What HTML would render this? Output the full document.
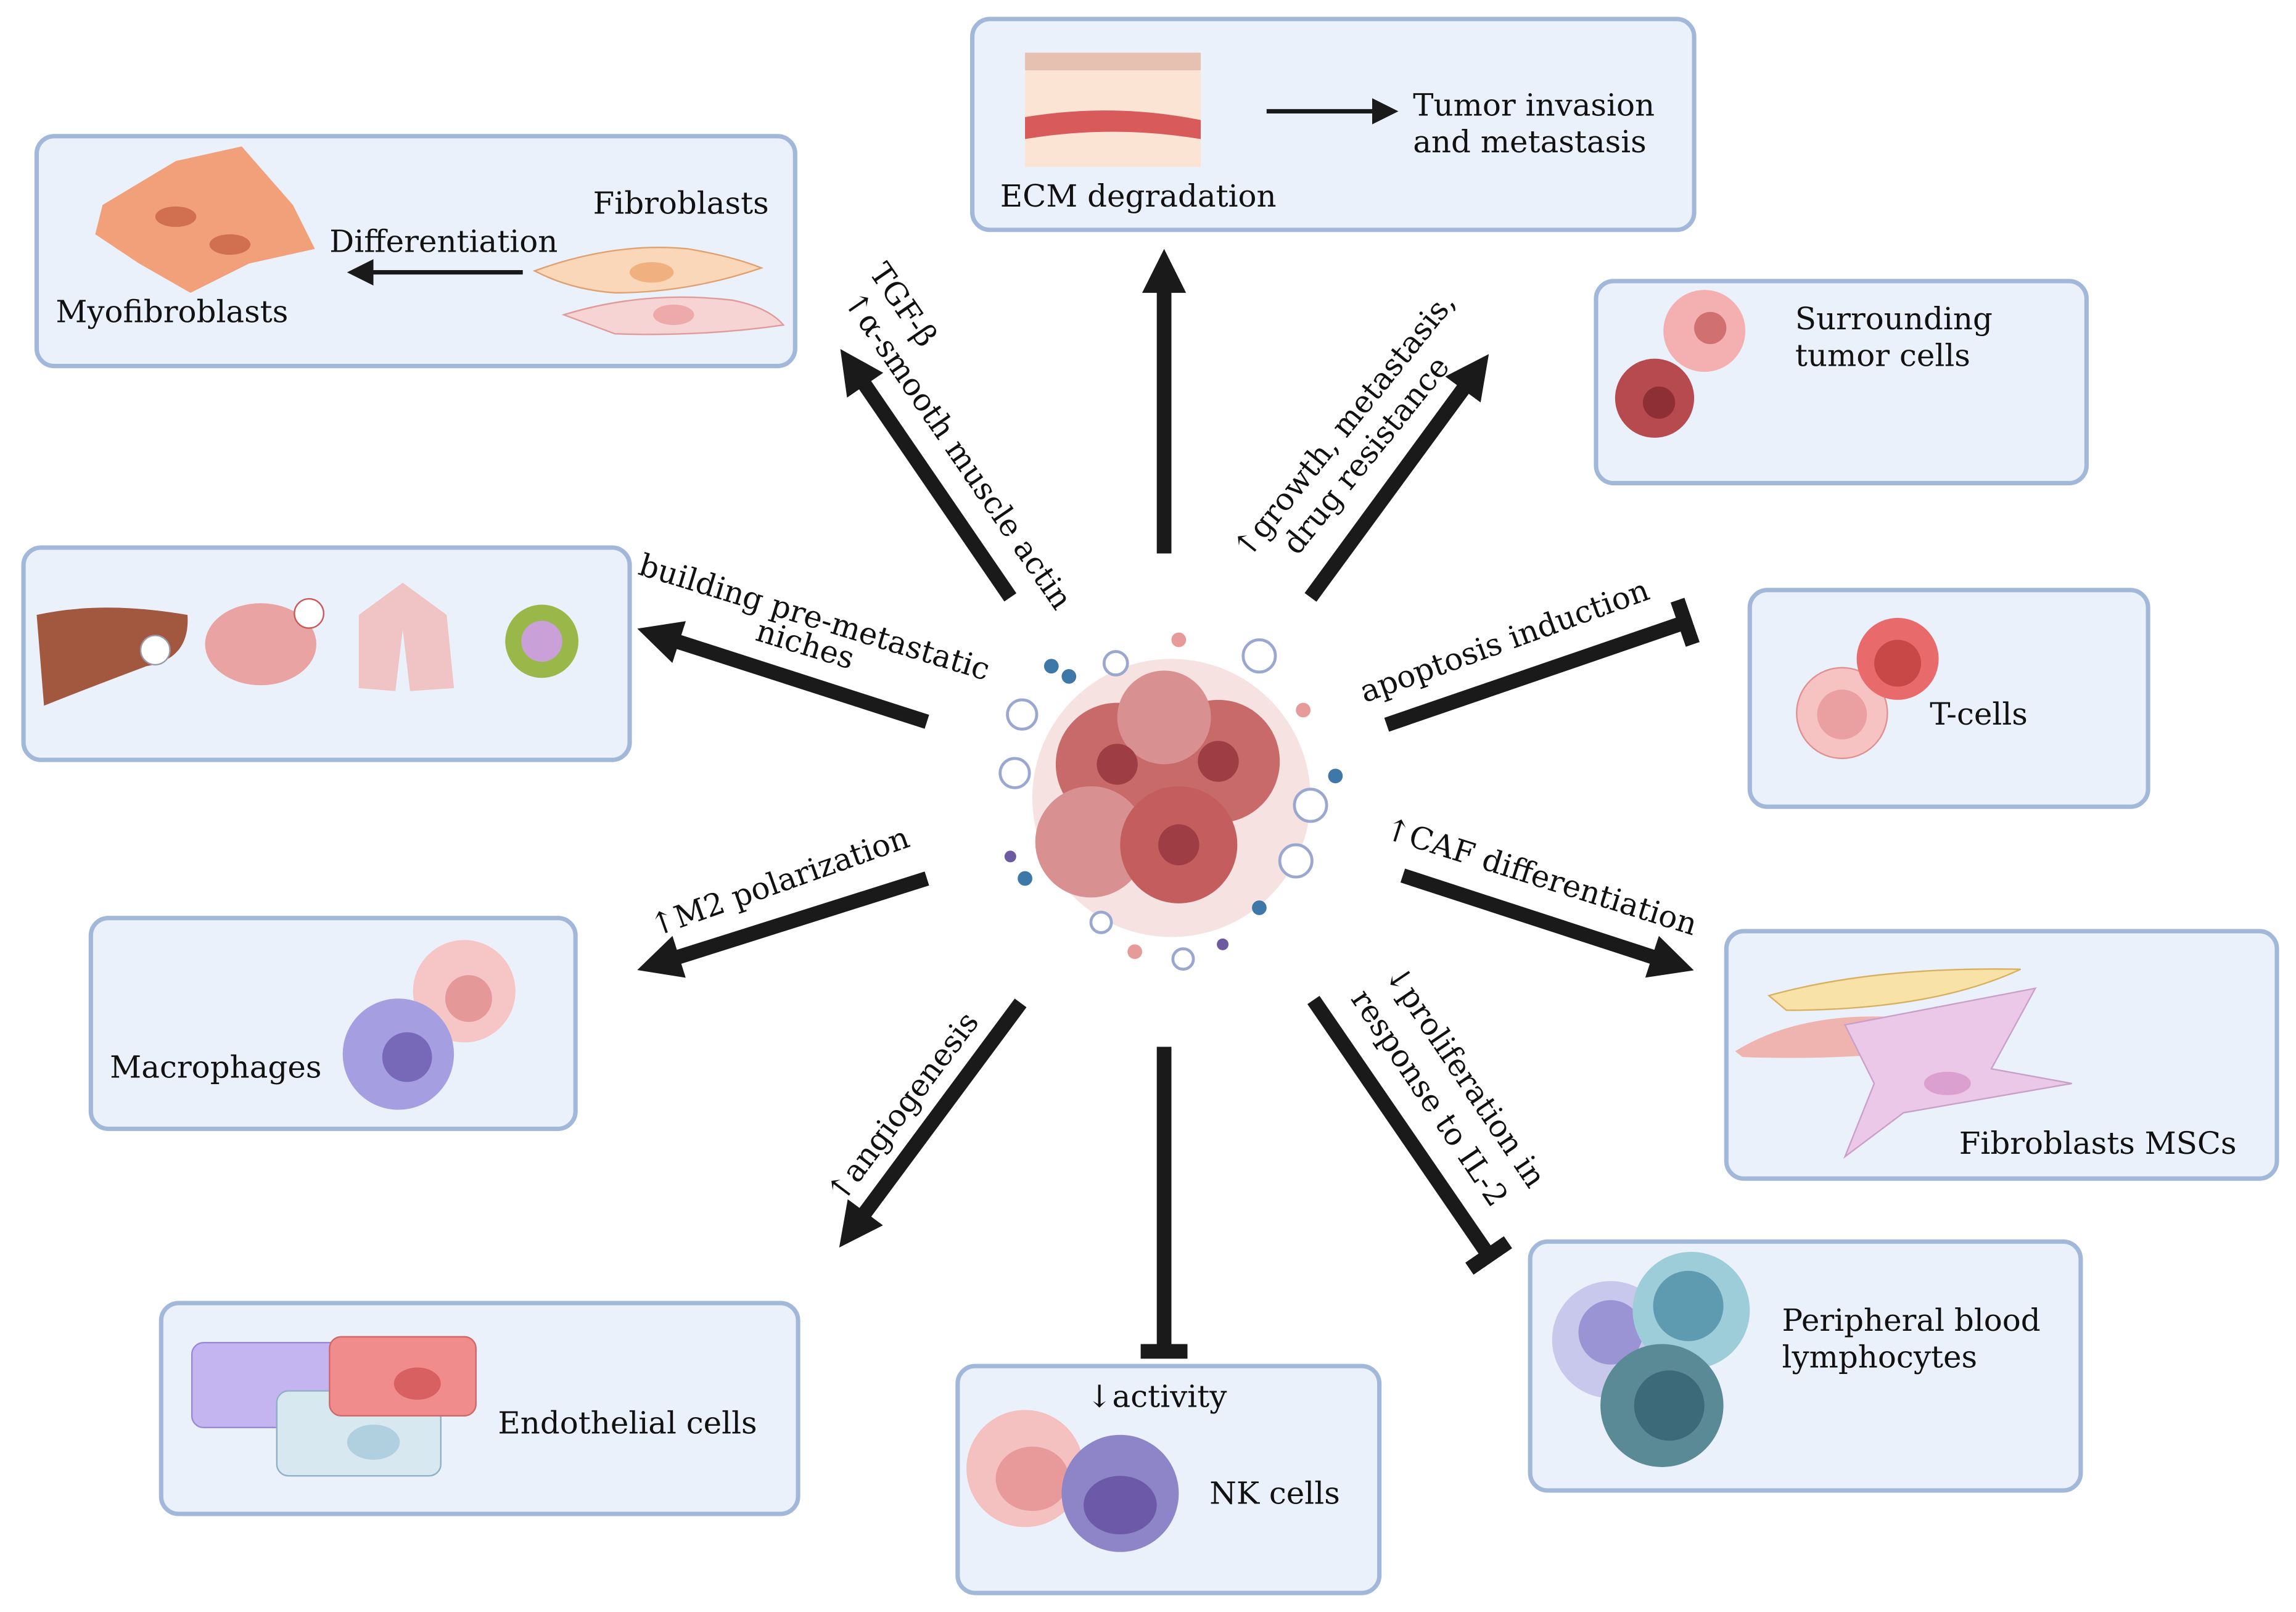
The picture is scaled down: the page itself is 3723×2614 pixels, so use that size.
<!DOCTYPE html>
<html><head><meta charset="utf-8"><style>
html,body{margin:0;padding:0;background:#fff}
svg{display:block}
text{font-family:"DejaVu Serif","Liberation Serif",serif;font-size:21px;fill:#111}
</style></head><body>
<svg width="3723" height="2614" viewBox="0 0 1568 1101" xmlns="http://www.w3.org/2000/svg">
<defs>
<marker id="ah" markerWidth="3" markerHeight="3" refX="0.5" refY="1.5" orient="auto" markerUnits="strokeWidth">
<path d="M0,0 L3,1.5 L0,3 z" fill="#1a1a1a"/></marker>
<marker id="ah2" markerWidth="6" markerHeight="6" refX="1" refY="3" orient="auto" markerUnits="strokeWidth">
<path d="M0,0 L6,3 L0,6 z" fill="#1a1a1a"/></marker>
<marker id="tb" markerWidth="1" markerHeight="3.2" refX="0.2" refY="1.6" orient="auto" markerUnits="strokeWidth">
<rect x="0" y="0" width="1" height="3.2" fill="#1a1a1a"/></marker>
</defs>
<g fill="#ebf1fa" stroke="#a2b8da" stroke-width="3">
<rect x="25" y="93" width="518" height="157" rx="12"/>
<rect x="664" y="13" width="493" height="144" rx="12"/>
<rect x="1090" y="192" width="335" height="138" rx="12"/>
<rect x="16" y="374" width="414" height="145" rx="12"/>
<rect x="1195" y="403" width="272" height="148" rx="12"/>
<rect x="62" y="627" width="331" height="144" rx="12"/>
<rect x="1179" y="636" width="376" height="169" rx="12"/>
<rect x="110" y="890" width="435" height="144" rx="12"/>
<rect x="654" y="933" width="288" height="155" rx="12"/>
<rect x="1045" y="848" width="376" height="170" rx="12"/>
</g>
<g stroke="#1a1a1a" stroke-width="10" fill="none">
<line x1="795" y1="378" x2="795" y2="195" marker-end="url(#ah)"/>
<line x1="690" y1="408" x2="588" y2="259" marker-end="url(#ah)"/>
<line x1="895" y1="408" x2="1002" y2="262" marker-end="url(#ah)"/>
<line x1="633" y1="493" x2="459" y2="437" marker-end="url(#ah)"/>
<line x1="947" y1="495" x2="1148" y2="426" marker-end="url(#tb)"/>
<line x1="633" y1="600" x2="459" y2="655" marker-end="url(#ah)"/>
<line x1="958" y1="598" x2="1133" y2="655" marker-end="url(#ah)"/>
<line x1="697" y1="685" x2="588" y2="832" marker-end="url(#ah)"/>
<line x1="795" y1="715" x2="795" y2="920" marker-end="url(#tb)"/>
<line x1="897" y1="683" x2="1015" y2="855" marker-end="url(#tb)"/>
<line x1="865" y1="76" x2="940" y2="76" stroke-width="3" marker-end="url(#ah2)"/>
<line x1="357" y1="186" x2="252" y2="186" stroke-width="3" marker-end="url(#ah2)"/>
</g>
<g>
<circle cx="800" cy="545" r="95" fill="#f3d5d5" opacity="0.7"/>
<circle cx="763" cy="522" r="42" fill="#c96a6a"/>
<circle cx="832" cy="520" r="42" fill="#c96a6a"/>
<circle cx="745" cy="575" r="38" fill="#d99090"/>
<circle cx="805" cy="577" r="40" fill="#c45e5e"/>
<circle cx="795" cy="490" r="32" fill="#d89090"/>
<circle cx="763" cy="522" r="14" fill="#9e3e44"/>
<circle cx="832" cy="520" r="14" fill="#9e3e44"/>
<circle cx="805" cy="577" r="14" fill="#9e3e44"/>
<g fill="#3d78a8"><circle cx="718" cy="455" r="5"/><circle cx="730" cy="462" r="5"/><circle cx="912" cy="530" r="5"/><circle cx="700" cy="600" r="5"/><circle cx="860" cy="620" r="5"/></g>
<g fill="#e69a9a"><circle cx="805" cy="437" r="5"/><circle cx="890" cy="485" r="5"/><circle cx="775" cy="650" r="5"/></g>
<g fill="#6e5aa0"><circle cx="690" cy="585" r="4"/><circle cx="835" cy="645" r="4"/></g>
<g fill="#fff" stroke="#9aa8d0" stroke-width="2"><circle cx="698" cy="488" r="10"/><circle cx="693" cy="528" r="10"/><circle cx="895" cy="550" r="11"/><circle cx="860" cy="448" r="11"/><circle cx="885" cy="588" r="11"/><circle cx="762" cy="453" r="8"/><circle cx="752" cy="630" r="7"/><circle cx="808" cy="655" r="7"/></g>
</g>
<g><path d="M70,140 L120,110 L165,100 L200,140 L215,170 L170,180 L130,200 L95,180 L65,160z" fill="#f1a07a"/>
<ellipse cx="120" cy="148" rx="14" ry="7" fill="#d07050"/><ellipse cx="157" cy="167" rx="14" ry="7" fill="#d07050"/>
<path d="M365,185 Q420,165 470,170 Q500,175 520,183 Q470,200 420,200 Q390,198 365,185z" fill="#f9d7b8" stroke="#e0a070"/>
<ellipse cx="445" cy="186" rx="15" ry="7" fill="#f0b080"/>
<path d="M385,215 Q440,198 500,205 Q525,210 535,222 Q480,230 420,228z" fill="#f6d4d4" stroke="#e09a9a"/>
<ellipse cx="460" cy="215" rx="14" ry="7" fill="#eeaaaa"/>
<text x="405" y="146">Fibroblasts</text><text x="225" y="172">Differentiation</text><text x="38" y="220">Myofibroblasts</text></g>
<g><rect x="700" y="36" width="120" height="78" fill="#fbe4d4"/><rect x="700" y="36" width="120" height="12" fill="#e6c0b0"/>
<path d="M700,80 Q760,70 820,82 L820,95 Q760,85 700,95z" fill="#d85a5a"/>
<text x="683" y="141">ECM degradation</text><text x="965" y="79">Tumor invasion</text><text x="965" y="104">and metastasis</text></g>
<circle cx="1164" cy="226" r="28" fill="#f4b0b0"/><circle cx="1168" cy="224" r="11" fill="#d07070"/>
<circle cx="1130" cy="272" r="27" fill="#b74a4e"/><circle cx="1133" cy="275" r="11" fill="#8e2f35"/>
<text x="1226" y="225">Surrounding</text><text x="1226" y="250">tumor cells</text>
<path d="M25,420 Q70,410 128,420 Q130,450 100,455 Q60,470 30,482z" fill="#a2583e"/>
<ellipse cx="178" cy="440" rx="38" ry="28" fill="#e9a3a3"/><circle cx="211" cy="419" r="10" fill="#fff" stroke="#c55"/>
<path d="M245,420 L275,398 L305,420 L310,470 L280,472 L275,430 L270,472 L245,470z" fill="#f0c4c4"/>
<circle cx="370" cy="438" r="25" fill="#9ab84a"/><circle cx="370" cy="438" r="14" fill="#c9a0d8"/>
<circle cx="106" cy="444" r="10" fill="#fff" stroke="#99a"/>
<circle cx="1258" cy="487" r="31" fill="#f6c2c2" stroke="#e09090"/><circle cx="1258" cy="488" r="17" fill="#eaa0a0"/>
<circle cx="1296" cy="450" r="28" fill="#e86a6a"/><circle cx="1296" cy="453" r="16" fill="#c84848"/>
<text x="1318" y="495">T-cells</text>
<circle cx="317" cy="677" r="35" fill="#f6c5c5"/><circle cx="320" cy="682" r="16" fill="#e59898"/>
<circle cx="272" cy="720" r="38" fill="#a59ee0"/><circle cx="278" cy="722" r="17" fill="#7868b8"/>
<text x="75" y="736">Macrophages</text>
<path d="M1208,680 Q1280,660 1380,662 Q1320,690 1220,690z" fill="#f8e2a8" stroke="#d8b060"/>
<path d="M1185,718 Q1230,690 1300,695 Q1340,700 1345,712 Q1280,725 1190,722z" fill="#f0b4b0"/>
<path d="M1260,700 L1390,675 L1360,730 L1415,740 L1300,760 L1260,790 L1280,740z" fill="#ecc8e8" stroke="#c8a0c8"/>
<ellipse cx="1330" cy="740" rx="16" ry="8" fill="#dca0d0"/>
<text x="1338" y="788">Fibroblasts MSCs</text>
<rect x="131" y="917" width="120" height="58" rx="8" fill="#c4b4f0" stroke="#9a88d8"/>
<rect x="189" y="950" width="112" height="58" rx="8" fill="#d8e8f0" stroke="#90b0c8"/>
<rect x="225" y="913" width="100" height="54" rx="8" fill="#f08c8c" stroke="#d06868"/>
<ellipse cx="285" cy="945" rx="16" ry="11" fill="#d86060"/><ellipse cx="255" cy="985" rx="18" ry="12" fill="#b0d0e0"/>
<text x="340" y="979">Endothelial cells</text>
<circle cx="700" cy="1003" r="40" fill="#f4c0c0"/><ellipse cx="705" cy="1010" rx="25" ry="22" fill="#e89a9a"/>
<circle cx="765" cy="1020" r="40" fill="#8e84c8"/><ellipse cx="765" cy="1028" rx="25" ry="20" fill="#6c5aa8"/>
<text x="742" y="961">↓activity</text><text x="826" y="1027">NK cells</text>
<circle cx="1100" cy="915" r="40" fill="#c8c8ec"/><circle cx="1100" cy="910" r="22" fill="#9a94d4"/>
<circle cx="1155" cy="895" r="40" fill="#9ccdd8"/><circle cx="1153" cy="892" r="24" fill="#5e9ab0"/>
<circle cx="1135" cy="960" r="42" fill="#5a8a96"/><circle cx="1140" cy="960" r="24" fill="#3c6a78"/>
<text x="1217" y="909">Peripheral blood</text><text x="1217" y="934">lymphocytes</text>
<text transform="translate(593,186) rotate(55.5)">TGF-β</text>
<text transform="translate(575,205) rotate(55.5)">↑α-smooth muscle actin</text>
<text transform="translate(852,383) rotate(-51)">↑growth, metastasis,</text>
<text transform="translate(886,380) rotate(-51)">drug resistance</text>
<text transform="translate(435,392) rotate(17)">building pre-metastatic</text>
<text transform="translate(515,437) rotate(17)">niches</text>
<text transform="translate(932,480) rotate(-20)">apoptosis induction</text>
<text transform="translate(447,640) rotate(-19.5)">↑M2 polarization</text>
<text transform="translate(944,572) rotate(17.5)">↑CAF differentiation</text>
<text transform="translate(575,823) rotate(-53)">↑angiogenesis</text>
<text transform="translate(945,665) rotate(56)">↓proliferation in</text>
<text transform="translate(922,682) rotate(56)">response to IL-2</text>
</svg>
</body></html>
